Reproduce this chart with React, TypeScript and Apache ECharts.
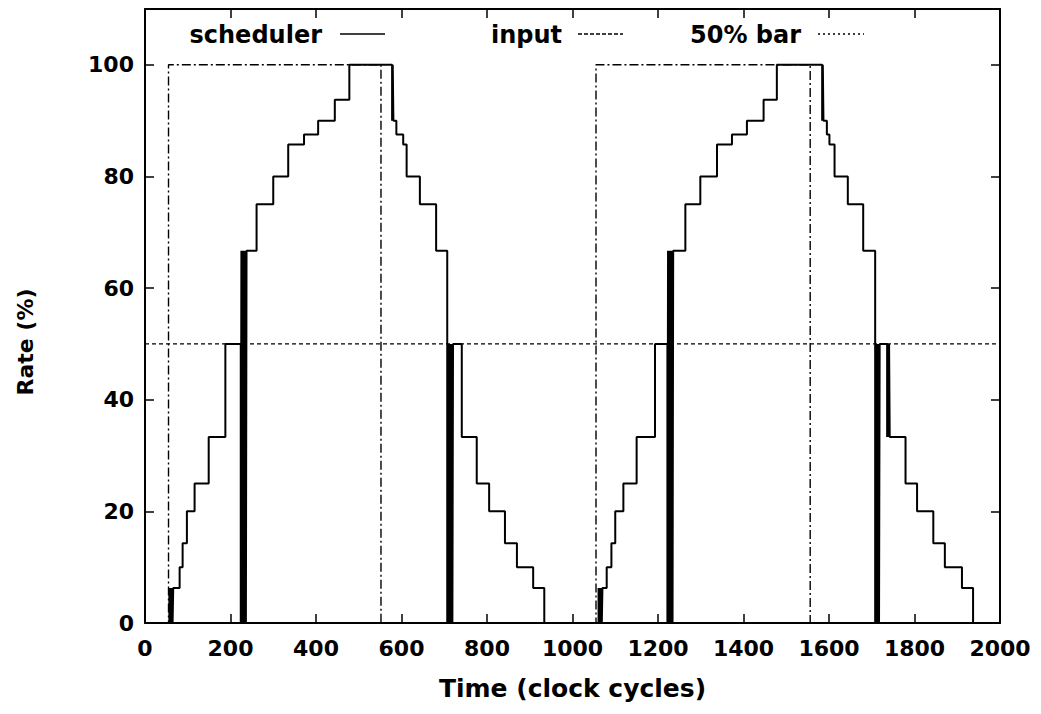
import React, { useEffect, useRef } from "react";
import * as echarts from "echarts";

// Scheduler rate (%) — staircase, each point starts a new level (step: end)
const schedulerTime1 = [0, 57, 58.5, 60, 61.5, 63, 64.5, 66, 81, 88, 98, 116, 149, 188, 224, 225.5, 227, 228.5, 230, 231.5, 233, 234.5, 236, 237.5, 261, 300, 335, 372, 405, 444, 478, 578, 579.5, 581, 588, 604, 612, 643, 681, 707, 708.5, 710, 711.5, 713, 714.5, 716, 717.5, 719, 720.5, 741, 776, 805, 842, 870, 908, 934];
const schedulerRate1 = [0, 6.25, 0, 6.25, 0, 6.25, 0, 6.25, 10, 14.29, 20, 25, 33.33, 50, 0, 66.67, 0, 66.67, 0, 66.67, 0, 66.67, 0, 66.67, 75, 80, 85.71, 87.5, 90, 93.75, 100, 90, 100, 90, 87.5, 85.71, 80, 75, 66.67, 0, 50, 0, 50, 0, 50, 0, 50, 0, 50, 33.33, 25, 20, 14.29, 10, 6.25, 0];
const schedulerTime2 = [1061, 1062.5, 1064, 1065.5, 1067, 1068.5, 1070, 1080, 1091, 1100, 1119, 1150, 1193, 1222, 1223.5, 1225, 1226.5, 1228, 1229.5, 1231, 1232.5, 1234, 1235.5, 1264, 1299, 1338, 1373, 1408, 1447, 1478, 1584, 1585.5, 1587, 1595, 1601, 1613, 1644, 1680, 1708, 1709.5, 1711, 1712.5, 1714, 1715.5, 1717, 1718.5, 1736, 1737.5, 1739, 1740.5, 1742, 1779, 1806, 1844, 1871, 1911, 1937, 2000];
const schedulerRate2 = [6.25, 0, 6.25, 0, 6.25, 0, 6.25, 10, 14.29, 20, 25, 33.33, 50, 0, 66.67, 0, 66.67, 0, 66.67, 0, 66.67, 0, 66.67, 75, 80, 85.71, 87.5, 90, 93.75, 100, 90, 100, 90, 87.5, 85.71, 80, 75, 66.67, 0, 50, 0, 50, 0, 50, 0, 50, 33.33, 50, 33.33, 50, 33.33, 25, 20, 14.29, 10, 6.25, 0, 0];

// Input rate (%)
const inputTime = [0, 55, 552, 1055, 1556, 2000];
const inputRate = [0, 100, 0, 100, 0, 0];

// 50% bar
const barTime = [0, 2000];
const barRate = [50, 50];

const xTicks = { min: 0, max: 2000, interval: 200 };
const yTicks = { min: 0, max: 110, interval: 20 };

const zip = (xs: number[], ys: number[]) => xs.map((x, i) => [x, ys[i]]);

const FONT = "DejaVu Sans";

export default function App() {
  const ref = useRef<HTMLDivElement>(null);
  useEffect(() => {
    if (!ref.current) return;
    const chart = echarts.init(ref.current, null, { renderer: "svg" });
    const axisText = { color: "#000", fontFamily: FONT, fontWeight: "bold" as const, fontSize: 22 };
    const tick = { show: true, inside: true, length: 9, lineStyle: { color: "#000", width: 1.5 } };
    const line = { show: true, onZero: false, lineStyle: { color: "#000", width: 2 } };
    const plain = (v: number) => String(v);
    chart.setOption({
      animation: false,
      backgroundColor: "#fff",
      grid: { left: 145, right: 41, top: 9, bottom: 91, containLabel: false },
      xAxis: [
        {
          type: "value", ...xTicks, position: "bottom",
          axisLine: line, axisTick: tick, splitLine: { show: false },
          axisLabel: { ...axisText, margin: 14, formatter: plain },
          name: "Time (clock cycles)", nameLocation: "middle", nameGap: 53,
          nameTextStyle: { ...axisText, fontSize: 25 },
        },
        {
          type: "value", ...xTicks, position: "top",
          axisLine: line, axisTick: tick, splitLine: { show: false },
          axisLabel: { show: false },
        },
      ],
      yAxis: [
        {
          type: "value", ...yTicks, position: "left",
          axisLine: line, axisTick: tick, splitLine: { show: false },
          axisLabel: { ...axisText, margin: 11, showMaxLabel: false, formatter: plain },
        },
        {
          type: "value", ...yTicks, position: "right",
          axisLine: line, axisTick: tick, splitLine: { show: false },
          axisLabel: { show: false },
        },
      ],
      series: [
        {
          name: "50% bar", type: "line", data: zip(barTime, barRate), showSymbol: false,
          lineStyle: { color: "#000", width: 1.3, type: [4, 3] },
        },
        {
          name: "input", type: "line", step: "end", data: zip(inputTime, inputRate), showSymbol: false,
          lineStyle: { color: "#000", width: 1.4, type: [9, 3, 2, 3] },
        },
        {
          name: "scheduler", type: "line", step: "end",
          data: zip(schedulerTime1.concat(schedulerTime2), schedulerRate1.concat(schedulerRate2)),
          showSymbol: false,
          lineStyle: { color: "#000", width: 2 },
        },
      ],
      graphic: [
        { type: "text", x: 25, y: 342, rotation: Math.PI / 2, style: { text: "Rate (%)", align: "center", verticalAlign: "middle", fill: "#000", font: `bold 22px "${FONT}"` } },
        { type: "text", x: 322, y: 35, style: { text: "scheduler", align: "right", verticalAlign: "middle", fill: "#000", font: `bold 24px "${FONT}"` } },
        { type: "line", shape: { x1: 340, y1: 34, x2: 385, y2: 34 }, style: { stroke: "#000", lineWidth: 1.5 } },
        { type: "text", x: 562, y: 35, style: { text: "input", align: "right", verticalAlign: "middle", fill: "#000", font: `bold 24px "${FONT}"` } },
        { type: "line", shape: { x1: 578, y1: 34, x2: 623, y2: 34 }, style: { stroke: "#000", lineWidth: 1.3, lineDash: [4, 2] } },
        { type: "text", x: 801, y: 35, style: { text: "50% bar", align: "right", verticalAlign: "middle", fill: "#000", font: `bold 24px "${FONT}"` } },
        { type: "line", shape: { x1: 818, y1: 34, x2: 864, y2: 34 }, style: { stroke: "#000", lineWidth: 1.3, lineDash: [2, 3] } },
      ],
    });
    return () => chart.dispose();
  }, []);
  return <div ref={ref} style={{ position: "absolute", left: 0, top: 0, width: 1041, height: 714 }} />;
}
